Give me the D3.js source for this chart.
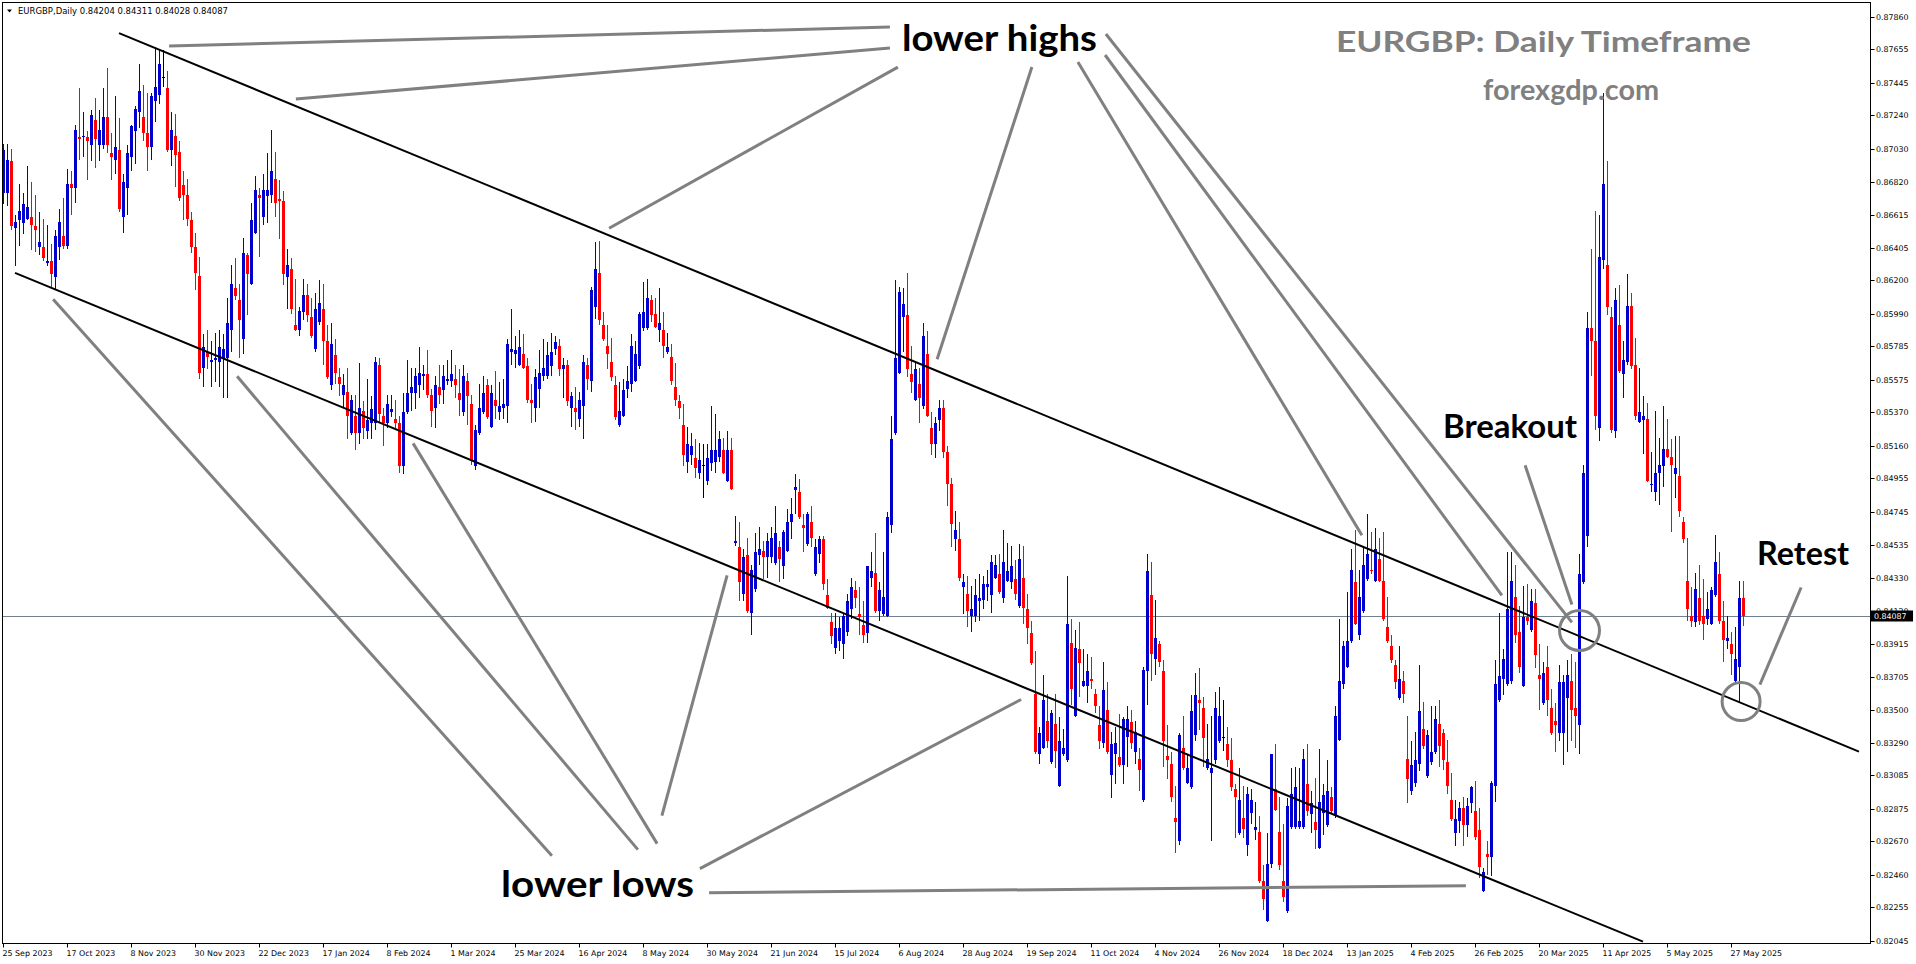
<!DOCTYPE html>
<html><head><meta charset="utf-8">
<script src="https://cdn.jsdelivr.net/npm/d3@7"></script>
<style>html,body{margin:0;padding:0;background:#fff;overflow:hidden}</style>
</head><body>
<svg id="chart" width="1916" height="964"></svg>
<script>
// ---------------- DATA ----------------
const symbolTitle = "EURGBP,Daily  0.84204 0.84311 0.84028 0.84087";
const lastPrice = 0.84087;

const open = [
.8675,.8675,.8695,.8653,.8658,.8656,.8659,.8660,.8654,.8641,
.8641,.8631,.8632,.8622,.8641,.8648,.8642,.8681,.8678,.8710,
.8710,.8710,.8705,.8721,.8705,.8705,.8723,.8700,.8696,.8702,
.8660,.8678,.8698,.8714,.8726,.8723,.8713,.8704,.8733,.8737,
.8748,.8741,.8702,.8711,.8701,.8680,.8674,.8658,.8641,.8623,
.8565,.8575,.8569,.8570,.8569,.8571,.8571,.8589,.8615,.8608,
.8583,.8636,.8618,.8650,.8674,.8660,.8673,.8674,.8684,.8671,
.8670,.8622,.8627,.8592,.8589,.8600,.8611,.8597,.8577,.8594,
.8602,.8582,.8554,.8573,.8559,.8548,.8550,.8524,.8535,.8524,
.8538,.8525,.8530,.8530,.8567,.8535,.8530,.8537,.8533,.8530,
.8503,.8537,.8549,.8549,.8554,.8560,.8561,.8548,.8540,.8553,
.8551,.8557,.8557,.8558,.8549,.8537,.8557,.8542,.8503,.8524,
.8537,.8554,.8528,.8545,.8537,.8540,.8541,.8575,.8574,.8567,
.8574,.8566,.8545,.8540,.8552,.8560,.8560,.8566,.8577,.8579,
.8564,.8567,.8540,.8540,.8533,.8541,.8567,.8557,.8603,.8625,
.8592,.8579,.8569,.8554,.8529,.8535,.8552,.8555,.8557,.8566,
.8590,.8590,.8608,.8599,.8589,.8589,.8575,.8572,.8553,.8544,
.8529,.8506,.8510,.8508,.8499,.8504,.8494,.8505,.8506,.8509,
.8513,.8494,.8513,.8455,.8452,.8423,.8447,.8411,.8426,.8447,
.8450,.8446,.8446,.8442,.8452,.8440,.8450,.8468,.8488,.8487,
.8466,.8454,.8468,.8435,.8448,.8457,.8422,.8405,.8389,.8393,
.8391,.8399,.8413,.8425,.8410,.8403,.8398,.8433,.8436,.8412,
.8410,.8409,.8466,.8524,.8562,.8597,.8598,.8561,.8545,.8555,
.8541,.8574,.8527,.8517,.8532,.8540,.8512,.8492,.8457,.8457,
.8427,.8423,.8409,.8409,.8418,.8419,.8427,.8422,.8433,.8435,
.8420,.8431,.8430,.8432,.8415,.8433,.8413,.8398,.8360,.8322,
.8326,.8343,.8317,.8341,.8302,.8322,.8318,.8392,.8346,.8388,
.8365,.8365,.8369,.8360,.8340,.8329,.8350,.8309,.8322,.8320,
.8315,.8333,.8342,.8323,.8319,.8293,.8374,.8422,.8382,.8391,
.8374,.8321,.8316,.8282,.8267,.8326,.8304,.8301,.8334,.8356,
.8351,.8313,.8310,.8318,.8330,.8333,.8328,.8318,.8300,.8272,
.8282,.8265,.8285,.8274,.8273,.8242,.8217,.8253,.8300,.8273,
.8242,.8223,.8276,.8276,.8276,.8276,.8303,.8284,.8279,.8263,
.8285,.8277,.8295,.8283,.8331,.8366,.8377,.8393,.8430,.8397,
.8412,.8432,.8438,.8431,.8445,.8431,.8402,.8390,.8378,.8357,
.8368,.8319,.8299,.8304,.8316,.8338,.8308,.8317,.8323,.8341,
.8335,.8317,.8293,.8272,.8280,.8288,.8277,.8291,.8286,.8274,
.8236,.8259,.8257,.8302,.8356,.8369,.8366,.8368,.8421,.8399,
.8365,.8408,.8400,.8417,.8372,.8354,.8377,.8351,.8343,.8335,
.8335,.8357,.8368,.8351,.8340,.8430,.8459,.8590,.8582,.8527,
.8633,.8630,.8597,.8525,.8592,.8561,.8569,.8604,.8567,.8531,
.8532,.8533,.8491,.8487,.8499,.8503,.8514,.8509,.8498,.8497,
.8468,.8431,.8409,.8405,.8420,.8409,.8407,.8404,.8422,.8435,
.8406,.8393,.8391,.8368,.8377,.84204];

const high = [
.8706,.8706,.8703,.8661,.8681,.8675,.8692,.8682,.8674,.8663,
.8659,.8655,.8643,.8652,.8665,.8672,.8690,.8689,.8718,.8741,
.8726,.8714,.8727,.8735,.8727,.8741,.8754,.8713,.8736,.8722,
.8687,.8705,.8718,.8730,.8756,.8743,.8738,.8738,.8767,.8765,
.8765,.8752,.8726,.8725,.8708,.8689,.8684,.8663,.8650,.8635,
.8586,.8589,.8582,.8587,.8589,.8586,.8609,.8630,.8634,.8618,
.8647,.8637,.8669,.8686,.8678,.8687,.8700,.8715,.8701,.8683,
.8676,.8640,.8634,.8621,.8603,.8621,.8618,.8609,.8612,.8620,
.8618,.8592,.8593,.8583,.8565,.8561,.8565,.8548,.8548,.8568,
.8544,.8558,.8547,.8572,.8571,.8540,.8548,.8548,.8545,.8535,
.8549,.8570,.8565,.8565,.8578,.8567,.8576,.8552,.8560,.8567,
.8567,.8570,.8576,.8567,.8564,.8567,.8562,.8548,.8529,.8555,
.8560,.8558,.8554,.8563,.8556,.8558,.8583,.8602,.8585,.8589,
.8586,.8571,.8555,.8564,.8576,.8583,.8581,.8587,.8585,.8583,
.8571,.8570,.8550,.8553,.8550,.8573,.8571,.8616,.8644,.8645,
.8600,.8592,.8584,.8560,.8556,.8558,.8566,.8586,.8582,.8600,
.8619,.8621,.8611,.8609,.8615,.8600,.8587,.8580,.8568,.8548,
.8542,.8528,.8524,.8520,.8518,.8517,.8517,.8541,.8536,.8525,
.8521,.8525,.8521,.8472,.8468,.8451,.8458,.8441,.8461,.8465,
.8456,.8461,.8465,.8478,.8456,.8463,.8476,.8483,.8498,.8495,
.8473,.8474,.8478,.8457,.8459,.8459,.8432,.8411,.8411,.8408,
.8410,.8423,.8433,.8431,.8427,.8418,.8440,.8449,.8461,.8430,
.8449,.8474,.8535,.8620,.8616,.8615,.8625,.8579,.8568,.8565,
.8593,.8588,.8537,.8534,.8545,.8545,.8516,.8496,.8475,.8468,
.8435,.8434,.8428,.8432,.8435,.8434,.8438,.8447,.8447,.8448,
.8463,.8455,.8453,.8444,.8454,.8453,.8423,.8406,.8387,.8339,
.8372,.8360,.8350,.8360,.8345,.8338,.8434,.8407,.8400,.8405,
.8388,.8385,.8383,.8363,.8352,.8380,.8367,.8336,.8339,.8347,
.8345,.8352,.8350,.8343,.8326,.8377,.8448,.8443,.8419,.8393,
.8381,.8340,.8323,.8302,.8335,.8346,.8322,.8359,.8373,.8376,
.8358,.8341,.8346,.8361,.8364,.8356,.8339,.8332,.8303,.8313,
.8302,.8301,.8300,.8292,.8283,.8252,.8272,.8322,.8328,.8295,
.8278,.8294,.8313,.8314,.8313,.8325,.8328,.8299,.8307,.8325,
.8303,.8318,.8301,.8352,.8407,.8393,.8424,.8451,.8463,.8438,
.8453,.8473,.8462,.8464,.8458,.8462,.8421,.8397,.8381,.8390,
.8374,.8346,.8330,.8336,.8378,.8355,.8337,.8352,.8352,.8356,
.8338,.8331,.8310,.8293,.8292,.8295,.8294,.8302,.8305,.8288,
.8250,.8267,.8305,.8381,.8411,.8388,.8449,.8449,.8441,.8415,
.8428,.8429,.8426,.8426,.8391,.8380,.8390,.8363,.8354,.8378,
.8372,.8381,.8385,.8380,.8448,.8504,.8600,.8640,.8664,.8661,
.8738,.8695,.8603,.8615,.8617,.8582,.8624,.8612,.8584,.8565,
.8547,.8543,.8512,.8538,.8521,.8541,.8533,.8520,.8522,.8522,
.8471,.8458,.8427,.8436,.8441,.8432,.8424,.8427,.8460,.8449,
.8418,.8409,.8399,.8402,.8431,.84311];

const low = [
.8668,.8667,.8652,.8629,.8642,.8649,.8658,.8639,.8638,.8636,
.8632,.8629,.8616,.8614,.8633,.8640,.8640,.8661,.8669,.8696,
.8698,.8683,.8695,.8691,.8695,.8703,.8700,.8683,.8687,.8663,
.8650,.8661,.8689,.8693,.8716,.8708,.8689,.8696,.8720,.8731,
.8742,.8701,.8692,.8679,.8670,.8658,.8654,.8637,.8614,.8558,
.8553,.8564,.8553,.8556,.8553,.8546,.8546,.8575,.8608,.8571,
.8574,.8598,.8617,.8649,.8635,.8655,.8656,.8669,.8660,.8646,
.8617,.8602,.8599,.8588,.8585,.8595,.8594,.8584,.8575,.8592,
.8567,.8558,.8551,.8555,.8547,.8540,.8520,.8523,.8513,.8517,
.8520,.8520,.8520,.8526,.8530,.8516,.8527,.8534,.8527,.8499,
.8498,.8536,.8538,.8539,.8546,.8551,.8546,.8528,.8527,.8542,
.8542,.8554,.8553,.8546,.8535,.8535,.8529,.8504,.8501,.8523,
.8536,.8533,.8527,.8533,.8532,.8533,.8530,.8567,.8565,.8566,
.8564,.8543,.8530,.8531,.8540,.8557,.8558,.8560,.8573,.8560,
.8546,.8541,.8528,.8526,.8528,.8520,.8551,.8550,.8596,.8592,
.8582,.8564,.8557,.8532,.8528,.8534,.8546,.8550,.8556,.8564,
.8588,.8589,.8594,.8590,.8581,.8571,.8574,.8554,.8541,.8533,
.8503,.8499,.8504,.8496,.8495,.8483,.8491,.8500,.8499,.8506,
.8498,.8493,.8488,.8453,.8418,.8418,.8411,.8397,.8424,.8441,
.8432,.8433,.8442,.8441,.8430,.8432,.8449,.8457,.8473,.8470,
.8449,.8453,.8452,.8434,.8442,.8425,.8413,.8391,.8385,.8387,
.8382,.8396,.8407,.8414,.8397,.8392,.8392,.8427,.8411,.8406,
.8409,.8408,.8461,.8523,.8561,.8575,.8559,.8549,.8544,.8530,
.8539,.8534,.8510,.8508,.8525,.8508,.8478,.8452,.8450,.8431,
.8410,.8402,.8399,.8405,.8406,.8413,.8418,.8411,.8432,.8423,
.8417,.8430,.8426,.8419,.8414,.8404,.8391,.8378,.8322,.8316,
.8325,.8326,.8316,.8313,.8301,.8321,.8317,.8353,.8345,.8358,
.8364,.8354,.8363,.8348,.8325,.8326,.8322,.8294,.8303,.8314,
.8303,.8314,.8325,.8316,.8299,.8292,.8353,.8368,.8372,.8377,
.8314,.8306,.8292,.8260,.8265,.8312,.8303,.8300,.8330,.8337,
.8314,.8312,.8267,.8316,.8329,.8324,.8314,.8299,.8269,.8271,
.8269,.8258,.8278,.8268,.8241,.8224,.8216,.8250,.8286,.8249,
.8229,.8222,.8275,.8275,.8275,.8275,.8283,.8272,.8262,.8262,
.8271,.8276,.8285,.8282,.8330,.8363,.8376,.8392,.8403,.8394,
.8411,.8431,.8435,.8430,.8430,.8406,.8392,.8379,.8363,.8356,
.8354,.8291,.8296,.8301,.8311,.8325,.8307,.8315,.8322,.8314,
.8312,.8297,.8280,.8264,.8272,.8264,.8270,.8285,.8268,.8244,
.8235,.8246,.8245,.8292,.8355,.8359,.8365,.8366,.8392,.8373,
.8364,.8403,.8399,.8376,.8350,.8353,.8346,.8334,.8323,.8330,
.8315,.8323,.8330,.8326,.8322,.8429,.8452,.8560,.8526,.8519,
.8627,.8598,.8524,.8521,.8562,.8546,.8567,.8564,.8532,.8530,
.8511,.8493,.8487,.8481,.8479,.8490,.8508,.8462,.8483,.8471,
.8455,.8406,.8402,.8402,.8403,.8394,.8403,.8403,.8421,.8404,
.8380,.8388,.8372,.8367,.8355,.84028];

const close = [
.8702,.8696,.8654,.8657,.8664,.8668,.8666,.8655,.8652,.8644,
.8634,.8632,.8624,.8648,.8657,.8642,.8681,.8678,.8715,.8709,
.8711,.8708,.8724,.8709,.8715,.8723,.8705,.8698,.8704,.8665,
.8682,.8700,.8717,.8728,.8739,.8713,.8704,.8736,.8742,.8756,
.8748,.8702,.8715,.8699,.8672,.8674,.8659,.8641,.8625,.8562,
.8578,.8572,.8570,.8571,.8578,.8577,.8593,.8618,.8610,.8595,
.8637,.8624,.8658,.8677,.8672,.8677,.8677,.8689,.8669,.8670,
.8624,.8630,.8602,.8589,.8601,.8611,.8598,.8585,.8602,.8606,
.8582,.8559,.8580,.8562,.8555,.8554,.8535,.8545,.8524,.8540,
.8527,.8532,.8539,.8569,.8536,.8530,.8542,.8539,.8530,.8503,
.8537,.8549,.8553,.8560,.8562,.8561,.8548,.8538,.8554,.8548,
.8560,.8558,.8561,.8554,.8545,.8560,.8547,.8507,.8526,.8540,
.8549,.8534,.8549,.8541,.8541,.8542,.8580,.8577,.8576,.8578,
.8565,.8545,.8543,.8559,.8562,.8565,.8573,.8575,.8581,.8564,
.8567,.8544,.8547,.8537,.8545,.8569,.8558,.8614,.8627,.8595,
.8583,.8574,.8559,.8534,.8538,.8551,.8557,.8579,.8574,.8599,
.8600,.8609,.8598,.8591,.8593,.8579,.8578,.8557,.8545,.8540,
.8510,.8517,.8516,.8502,.8507,.8504,.8508,.8513,.8513,.8520,
.8499,.8513,.8489,.8456,.8430,.8446,.8412,.8438,.8449,.8451,
.8446,.8456,.8458,.8461,.8445,.8462,.8468,.8473,.8490,.8471,
.8464,.8473,.8458,.8452,.8457,.8429,.8414,.8396,.8401,.8401,
.8409,.8418,.8427,.8420,.8408,.8397,.8440,.8437,.8412,.8425,
.8421,.8471,.8520,.8571,.8613,.8605,.8564,.8556,.8564,.8546,
.8585,.8535,.8517,.8530,.8540,.8512,.8492,.8467,.8463,.8433,
.8430,.8412,.8413,.8422,.8420,.8429,.8429,.8443,.8441,.8424,
.8443,.8437,.8440,.8423,.8445,.8414,.8401,.8379,.8323,.8335,
.8356,.8330,.8348,.8324,.8330,.8326,.8404,.8363,.8389,.8379,
.8368,.8374,.8368,.8352,.8330,.8362,.8323,.8328,.8329,.8315,
.8344,.8344,.8329,.8336,.8312,.8375,.8437,.8385,.8395,.8380,
.8330,.8318,.8295,.8279,.8334,.8313,.8313,.8349,.8359,.8354,
.8332,.8319,.8313,.8351,.8346,.8333,.8318,.8301,.8295,.8293,
.8275,.8297,.8293,.8276,.8242,.8231,.8253,.8322,.8287,.8252,
.8232,.8289,.8297,.8301,.8280,.8319,.8286,.8291,.8274,.8292,
.8296,.8299,.8286,.8346,.8368,.8390,.8393,.8438,.8404,.8421,
.8441,.8448,.8437,.8451,.8431,.8407,.8393,.8381,.8367,.8369,
.8360,.8306,.8315,.8318,.8349,.8327,.8334,.8323,.8344,.8327,
.8318,.8302,.8281,.8281,.8288,.8277,.8289,.8301,.8270,.8251,
.8248,.8257,.8304,.8366,.8371,.8382,.8413,.8431,.8397,.8377,
.8408,.8406,.8418,.8384,.8369,.8373,.8356,.8335,.8340,.8367,
.8367,.8372,.8350,.8346,.8435,.8499,.8590,.8582,.8535,.8635,
.8681,.8603,.8526,.8608,.8563,.8570,.8604,.8566,.8535,.8537,
.8535,.8494,.8492,.8499,.8504,.8514,.8509,.8504,.8502,.8475,
.8457,.8413,.8406,.8426,.8406,.8404,.8413,.8425,.8443,.8406,
.8394,.8395,.8385,.8382,.8420,.84087];

const dateLabels = ["25 Sep 2023","17 Oct 2023","8 Nov 2023","30 Nov 2023","22 Dec 2023",
"17 Jan 2024","8 Feb 2024","1 Mar 2024","25 Mar 2024","16 Apr 2024","8 May 2024","30 May 2024",
"21 Jun 2024","15 Jul 2024","6 Aug 2024","28 Aug 2024","19 Sep 2024","11 Oct 2024","4 Nov 2024",
"26 Nov 2024","18 Dec 2024","13 Jan 2025","4 Feb 2025","26 Feb 2025","20 Mar 2025","11 Apr 2025",
"5 May 2025","27 May 2025"];
const dateLabelBars = dateLabels.map((d,k)=>k*16);

const priceTickLabels = ["0.87860","0.87655","0.87445","0.87240","0.87030","0.86820","0.86615",
"0.86405","0.86200","0.85990","0.85785","0.85575","0.85370","0.85160","0.84955","0.84745","0.84535",
"0.84330","0.84120","0.83915","0.83705","0.83500","0.83290","0.83085","0.82875","0.82670","0.82460",
"0.82255","0.82045"];

// channel lines [bar, price]
const channelUpper = [[28.875,0.87757],[463.875,0.83235]];
const channelLower = [[2.875,0.86248],[409.875,0.82039]];

// annotation pointer lines [bar, price] -> [bar, price]
const pointerLines = [
  [[221.6,0.87795],[41.4,0.87675]],
  [[221.6,0.87663],[73.1,0.87342]],
  [[223.6,0.87543],[151.4,0.86529]],
  [[257.1,0.87543],[233.4,0.85704]],
  [[268.6,0.87575],[339.6,0.84596]],
  [[275.4,0.87619],[374.6,0.84218]],
  [[275.6,0.87751],[392.1,0.84048]],
  [[380.4,0.85037],[392.1,0.84161]],
  [[449.4,0.84268],[439.1,0.83657]],
  [[137.1,0.82580],[12.4,0.86082]],
  [[158.6,0.82618],[58.4,0.85597]],
  [[163.4,0.82656],[102.4,0.85175]],
  [[164.6,0.82832],[180.9,0.84344]],
  [[174.1,0.82499],[254.4,0.83563]],
  [[176.4,0.82347],[365.6,0.82391]]
];
const markerCircles = [[394.0,0.83997],[434.4,0.83550]];

const annotationTexts = [
  {text:"lower highs", bar:224.6, price:0.87644},
  {text:"lower lows", bar:124.4, price:0.82322},
  {text:"Breakout", bar:359.9, price:0.85207},
  {text:"Retest", bar:438.4, price:0.84407},
  {text:"EURGBP: Daily Timeframe", bar:333.1, price:0.87638},
  {text:"forexgdp.com", bar:369.9, price:0.87335}
];

// ---------------- LAYOUT ----------------
const W = 1916, H = 964;
const plot = {left:2.5, top:2.5, right:1870.5, bottom:943.5};
const barStep = 4;
const nSlots = 466;
const x = d3.scaleLinear().domain([0, nSlots]).range([3.5, 3.5 + barStep*nSlots]);
const y = d3.scaleLinear().domain([0.82045, 0.87860]).range([940.7, 16.7]);

const svg = d3.select("#chart");
svg.append("rect").attr("width",W).attr("height",H).attr("fill","#fff");

svg.append("defs").append("clipPath").attr("id","plotClip")
  .append("rect").attr("x",3).attr("y",3).attr("width",plot.right-3).attr("height",plot.bottom-3);

const g = svg.append("g").attr("clip-path","url(#plotClip)");

// last price line
g.append("line").attr("x1",plot.left).attr("x2",plot.right)
  .attr("y1",Math.round(y(lastPrice))+0.5).attr("y2",Math.round(y(lastPrice))+0.5)
  .attr("stroke","#708090").attr("stroke-width",1);

// candles
const bars = d3.range(open.length).map(i=>({i,o:open[i],h:high[i],l:low[i],c:close[i]}));
const colorOf = d => d.c > d.o ? "#0000cc" : (d.c < d.o ? "#ff0000" : "#000000");
const cg = g.append("g").attr("shape-rendering","crispEdges");
cg.selectAll("line.wick").data(bars).join("line").attr("class","wick")
  .attr("x1",d=>x(d.i)).attr("x2",d=>x(d.i))
  .attr("y1",d=>y(d.h)).attr("y2",d=>y(d.l))
  .attr("stroke",colorOf).attr("stroke-width",1);
cg.selectAll("rect.body").data(bars).join("rect").attr("class","body")
  .attr("x",d=>x(d.i)-1.5).attr("width",3)
  .attr("y",d=>y(Math.max(d.o,d.c)))
  .attr("height",d=>Math.max(1, y(Math.min(d.o,d.c))-y(Math.max(d.o,d.c))))
  .attr("fill",colorOf);

// channel lines
[channelUpper, channelLower].forEach(seg=>{
  g.append("line").attr("x1",x(seg[0][0])).attr("y1",y(seg[0][1]))
    .attr("x2",x(seg[1][0])).attr("y2",y(seg[1][1]))
    .attr("stroke","#000").attr("stroke-width",2);
});

// pointer lines
pointerLines.forEach(seg=>{
  g.append("line").attr("x1",x(seg[0][0])).attr("y1",y(seg[0][1]))
    .attr("x2",x(seg[1][0])).attr("y2",y(seg[1][1]))
    .attr("stroke","#808080").attr("stroke-width",3);
});
// circles
const circleR = [20,19];
markerCircles.forEach((c,k)=>{
  g.append("circle").attr("cx",x(c[0])).attr("cy",y(c[1])).attr("r",circleR[k])
    .attr("fill","none").attr("stroke","#808080").attr("stroke-width",3);
});

// annotation texts
const textStyle = {
  "lower highs": {size:37, len:195, color:"#000"},
  "lower lows": {size:37, len:193, color:"#000"},
  "Breakout": {size:32, len:134, color:"#000"},
  "Retest": {size:32, len:92, color:"#000"},
  "EURGBP: Daily Timeframe": {size:29, len:415, color:"#808080"},
  "forexgdp.com": {size:29, len:176, color:"#808080"}
};
annotationTexts.forEach(t=>{
  const s = textStyle[t.text];
  g.append("text").attr("x",x(t.bar)).attr("y",y(t.price))
    .attr("font-family","Lato, 'Open Sans', sans-serif").attr("font-weight","bold")
    .attr("font-size",s.size).attr("fill",s.color)
    .attr("textLength",s.len).attr("lengthAdjust","spacingAndGlyphs")
    .text(t.text);
});

// frame
svg.append("rect").attr("x",plot.left).attr("y",plot.top)
  .attr("width",plot.right-plot.left).attr("height",plot.bottom-plot.top)
  .attr("fill","none").attr("stroke","#000").attr("stroke-width",1)
  .attr("shape-rendering","crispEdges");

// right price axis
const axisFont = "DejaVu Sans, Verdana, sans-serif";
const ra = svg.append("g");
priceTickLabels.forEach(lbl=>{
  const v = +lbl, yy = y(v);
  ra.append("line").attr("x1",plot.right).attr("x2",plot.right+4)
    .attr("y1",Math.round(yy)+0.5).attr("y2",Math.round(yy)+0.5)
    .attr("stroke","#000").attr("stroke-width",1);
  ra.append("text").attr("x",1876).attr("y",yy+3)
    .attr("font-family",axisFont).attr("font-size",7.9).attr("fill","#000").text(lbl);
});

// last price box
const ly = y(lastPrice);
svg.append("rect").attr("x",1871).attr("y",Math.round(ly)-5.5).attr("width",42).attr("height",11).attr("fill","#000");
svg.append("text").attr("x",1874).attr("y",ly+3.2).attr("font-family",axisFont)
  .attr("font-size",7.9).attr("fill","#fff").text(lastPrice.toFixed(5));

// bottom date axis
const ba = svg.append("g");
dateLabels.forEach((lbl,k)=>{
  const xx = x(dateLabelBars[k]);
  ba.append("line").attr("x1",Math.floor(xx)+0.5).attr("x2",Math.floor(xx)+0.5)
    .attr("y1",plot.bottom).attr("y2",plot.bottom+4).attr("stroke","#000").attr("stroke-width",1);
  ba.append("text").attr("x",xx-1).attr("y",956)
    .attr("font-family",axisFont).attr("font-size",7.9).attr("fill","#000").text(lbl);
});

// header
svg.append("path").attr("d","M7,9.5 L12,9.5 L9.5,12.5 Z").attr("fill","#000");
svg.append("text").attr("x",18).attr("y",14).attr("font-family",axisFont)
  .attr("font-size",8.6).attr("fill","#000")
  .attr("textLength",210).attr("lengthAdjust","spacingAndGlyphs").text(symbolTitle);
</script>
</body></html>
